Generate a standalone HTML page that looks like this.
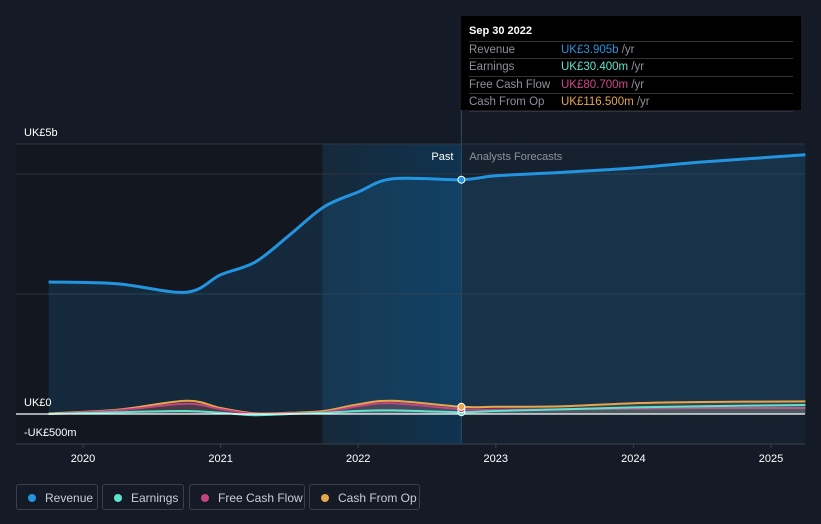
<!DOCTYPE html>
<html><head><meta charset="utf-8"><style>
body{margin:0;background:#151b26;font-family:"Liberation Sans",sans-serif;}
#wrap{position:relative;width:821px;height:524px;overflow:hidden;background:#151b26;}
.lg{position:absolute;top:484px;height:26px;border:1px solid #3a404b;border-radius:3px;color:#c9cdd3;font-size:12px;line-height:26px;box-sizing:border-box;padding-left:28px;}
.lg i{position:absolute;left:11px;top:9px;width:8px;height:8px;border-radius:50%;}
#tip{position:absolute;left:461px;top:16px;width:340px;height:94px;background:#000;font-size:11.5px;}
.row{position:absolute;left:8px;width:324px;border-top:1px solid #333;height:17px;line-height:17px;color:#8d9199}
.row span{position:absolute;left:92px}
</style></head><body>
<div id="wrap">
<svg id="svg" width="821" height="524" style="position:absolute;left:0;top:0"></svg>
<div id="tip">
<div style="position:absolute;left:8px;top:9px;color:#fff;font-weight:bold;font-size:11px">Sep 30 2022</div>
<div class="row" style="top:25px">Revenue<span><b style="color:#2394df;font-weight:normal">UK£3.905b</b> /yr</span></div>
<div class="row" style="top:42px">Earnings<span><b style="color:#5fe3cf;font-weight:normal">UK£30.400m</b> /yr</span></div>
<div class="row" style="top:60px">Free Cash Flow<span><b style="color:#d2468a;font-weight:normal">UK£80.700m</b> /yr</span></div>
<div class="row" style="top:77px;border-bottom:1px solid #333">Cash From Op<span><b style="color:#e8a64c;font-weight:normal">UK£116.500m</b> /yr</span></div>
</div>
<div class="lg" style="left:16px;width:82px"><i style="background:#2394df"></i>Revenue</div>
<div class="lg" style="left:102px;width:82px"><i style="background:#5fe3cf"></i>Earnings</div>
<div class="lg" style="left:189px;width:116px"><i style="background:#c44482"></i>Free Cash Flow</div>
<div class="lg" style="left:309px;width:111px"><i style="background:#e8a64c"></i>Cash From Op</div>
</div>
<script>
const years=[2019.75,2020.25,2020.75,2021.0,2021.25,2021.5,2021.75,2022.0,2022.25,2022.75,2023.0,2023.5,2024.0,2024.5,2025.25];
const revenue=[2.2,2.17,2.03,2.32,2.53,2.98,3.45,3.7,3.92,3.905,3.97,4.03,4.1,4.2,4.32];
const earnings=[0.0,0.03,0.05,0.02,-0.02,0.0,0.02,0.05,0.06,0.03,0.05,0.08,0.11,0.13,0.15];
const fcf=[0.0,0.06,0.17,0.08,0.0,0.01,0.03,0.13,0.18,0.08,0.07,0.08,0.09,0.1,0.1];
const cfo=[0.01,0.07,0.22,0.1,0.01,0.02,0.05,0.16,0.22,0.12,0.12,0.13,0.18,0.2,0.21];
const xTicks=[2020,2021,2022,2023,2024,2025];
const NS="http://www.w3.org/2000/svg";
const svg=document.getElementById('svg');
const X=t=>83+(t-2020)*137.6;
const Y=v=>414-v*60;
function mk(tag,at,parent){const e=document.createElementNS(NS,tag);for(const k in at)e.setAttribute(k,at[k]);(parent||svg).appendChild(e);return e;}
function path(vals){const p=years.map((t,i)=>[X(t),Y(vals[i])]);let d='M'+p[0][0]+','+p[0][1];
 for(let i=0;i<p.length-1;i++){const p0=p[Math.max(0,i-1)],p1=p[i],p2=p[i+1],p3=p[Math.min(p.length-1,i+2)];
  const c1=[p1[0]+(p2[0]-p0[0])/6,p1[1]+(p2[1]-p0[1])/6],c2=[p2[0]-(p3[0]-p1[0])/6,p2[1]-(p3[1]-p1[1])/6];
  d+=' C'+c1[0]+','+c1[1]+' '+c2[0]+','+c2[1]+' '+p2[0]+','+p2[1];}return d;}
const defs=mk('defs',{});
const g=mk('linearGradient',{id:'hl',x1:0,x2:1,y1:0,y2:0},defs);
mk('stop',{offset:0,'stop-color':'#16293a'},g);mk('stop',{offset:1,'stop-color':'#0f3350'},g);
const bg=mk('rect',{x:16,y:144,width:X(2021.74)-16,height:300,fill:'#121720'});

const hl=mk('rect',{x:X(2021.74),y:144,width:X(2022.75)-X(2021.74),height:300,fill:'url(#hl)'});

const fr=mk('rect',{x:X(2022.75),y:144,width:805-X(2022.75),height:300,fill:'#162130'});

[Y(4.5),Y(4),Y(2)].forEach(y=>{const l=mk('line',{x1:16,x2:805,y1:y,y2:y,stroke:'#2c3440','stroke-width':1});});
const ax=mk('line',{x1:16,x2:805,y1:444,y2:444,stroke:'#3a404b'});
const rd=path(revenue);
const ra=mk('path',{d:rd+' L'+X(years[years.length-1])+','+Y(0)+' L'+X(years[0])+','+Y(0)+'Z',fill:'rgba(35,148,223,0.15)'});

[[cfo,'#e8a64c','cash-from-op'],[fcf,'#c44482','free-cash-flow'],[earnings,'#5fe3cf','earnings']].forEach(([v,c,n])=>{
 const a=mk('path',{d:path(v)+' L'+X(years[years.length-1])+','+Y(0)+' L'+X(years[0])+','+Y(0)+'Z',fill:c,'fill-opacity':0.15});
 const l=mk('path',{d:path(v),fill:'none',stroke:c,'stroke-width':2});});
const z=mk('line',{x1:16,x2:805,y1:Y(0),y2:Y(0),stroke:'#fff','stroke-width':1.2});
const rl=mk('path',{d:rd,fill:'none',stroke:'#2394df','stroke-width':3});
const dv=mk('line',{x1:X(2022.75),x2:X(2022.75),y1:110,y2:444,stroke:'#2e4a60'});
const i9=9;
[[earnings,'#5fe3cf'],[fcf,'#c44482'],[cfo,'#e8a64c'],[revenue,'#2394df']].forEach(([v,c])=>{const p=mk('circle',{cx:X(years[i9]),cy:Y(v[i9]),r:3.5,fill:c,stroke:'#fff','stroke-width':1});});
function txt(s,x,y,at,n){const t=mk('text',Object.assign({x:x,y:y,'font-size':11,fill:'#fff','font-family':'Liberation Sans, sans-serif'},at));t.textContent=s;return t;}
txt('UK£5b',24,136,{},'y-label-top');
txt('UK£0',24,406,{},'y-label-zero');
txt('-UK£500m',24,436,{},'y-label-min');
txt('Past',X(2022.75)-8,160,{'text-anchor':'end'},'past-label');
txt('Analysts Forecasts',X(2022.75)+8,160,{fill:'#8d9199'},'forecast-label');
xTicks.forEach(t=>{const l=mk('line',{x1:X(t),x2:X(t),y1:444,y2:448,stroke:'#3a404b'});
 txt(String(t),X(t),462,{'text-anchor':'middle'},'x-tick-label');});
</script>
</body></html>
